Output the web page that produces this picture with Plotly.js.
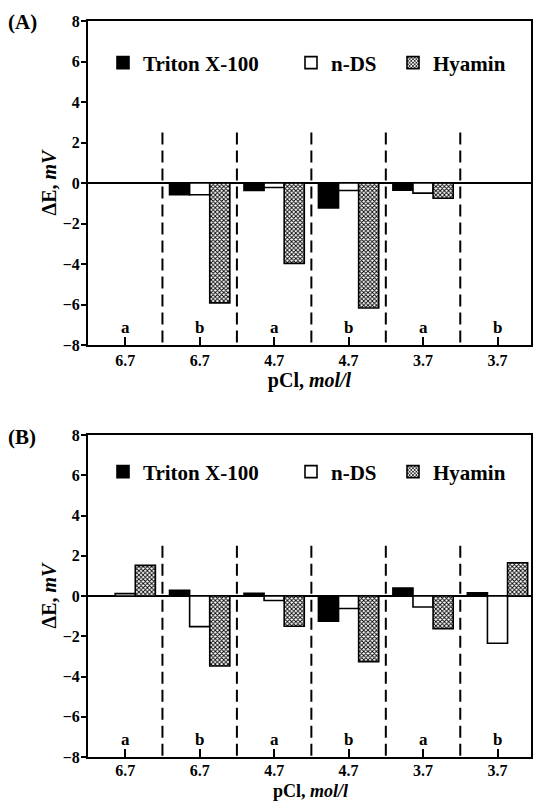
<!DOCTYPE html>
<html>
<head>
<meta charset="utf-8">
<script src="https://cdn.plot.ly/plotly-3.0.1.min.js"></script>
<style>
  html, body { margin: 0; padding: 0; background: #fff; }
  #chart { width: 535px; height: 802px; }
</style>
</head>
<body>
<div id="chart"></div>
<script>
// ---- data ----
const categories = ['6.7 a', '6.7 b', '4.7 a', '4.7 b', '3.7 a', '3.7 b'];
const pClLabels = ['6.7', '6.7', '4.7', '4.7', '3.7', '3.7'];
const groupLetters = ['a', 'b', 'a', 'b', 'a', 'b'];
const seriesNames = ['Triton X-100', 'n-DS', 'Hyamin'];

// Panel (A)
const tritonA = [0, -0.58, -0.37, -1.23, -0.35, 0];
const ndsA    = [0, -0.58, -0.22, -0.37, -0.50, 0];
const hyaminA = [0, -5.92, -3.97, -6.17, -0.75, 0];

// Panel (B)
const tritonB = [0, 0.28, 0.13, -1.25, 0.40, 0.16];
const ndsB    = [0.12, -1.52, -0.22, -0.62, -0.55, -2.35];
const hyaminB = [1.52, -3.48, -1.50, -3.26, -1.62, 1.65];

const yTicks = [-8, -6, -4, -2, 0, 2, 4, 6, 8];
const xTitle = 'pCl, <i>mol/l</i>';
const yTitle = '\u0394E, <i>mV</i>';

// ---- styling ----
const SERIF = 'Liberation Serif, Times New Roman, serif';
const W = 535, H = 802;
const L = 88, R = 4;
const plotW = W - L - R;
const px2x = px => (px - L) / plotW;
const py2y = py => (H - py) / H;

const styles = [
  { color: '#000000' },
  { color: '#ffffff' },
  { color: '#ffffff', pattern: { shape: 'x', size: 3, solidity: 0.5, fgcolor: '#000000', bgcolor: '#ffffff', fillmode: 'replace' } }
];

function barTrace(name, values, idx, xa, ya, legendId) {
  const m = { color: styles[idx].color, line: { color: '#000', width: 1.6 } };
  if (styles[idx].pattern) m.pattern = styles[idx].pattern;
  return {
    type: 'bar', name: name, x: categories, y: values,
    xaxis: xa, yaxis: ya, marker: m, legend: legendId, showlegend: true,
    hoverinfo: 'x+y+name'
  };
}

const traces = [
  barTrace(seriesNames[0], tritonA, 0, 'x', 'y', 'legend'),
  barTrace(seriesNames[1], ndsA, 1, 'x', 'y', 'legend2'),
  barTrace(seriesNames[2], hyaminA, 2, 'x', 'y', 'legend3'),
  barTrace(seriesNames[0], tritonB, 0, 'x2', 'y2', 'legend4'),
  barTrace(seriesNames[1], ndsB, 1, 'x2', 'y2', 'legend5'),
  barTrace(seriesNames[2], hyaminB, 2, 'x2', 'y2', 'legend6')
];

const tickFont = { family: SERIF, size: 16, color: '#000', weight: 700 };
const titleFont = { family: SERIF, size: 20, color: '#000', weight: 700 };

function xAxis(anchor, titleText, labelStandoff) {
  return {
    type: 'category', anchor: anchor, domain: [0, 1],
    range: [-0.5, 5.45],
    tickmode: 'array', tickvals: categories, ticktext: pClLabels,
    ticks: 'inside', ticklen: 8, tickwidth: 2, tickcolor: '#000',
    ticklabelstandoff: labelStandoff,
    showline: true, linecolor: '#000', linewidth: 2, mirror: true,
    showgrid: false, zeroline: false, fixedrange: true,
    tickfont: tickFont,
    title: { text: titleText, font: titleFont, standoff: 4 }
  };
}
function yAxis(domain, anchor) {
  return {
    anchor: anchor, domain: domain, range: [-8, 8],
    tickmode: 'array', tickvals: yTicks,
    ticks: 'outside', ticklen: 5, tickwidth: 2, tickcolor: '#000',
    ticklabelstandoff: -2,
    showline: true, linecolor: '#000', linewidth: 2, mirror: true,
    showgrid: false, zeroline: true, zerolinecolor: '#000', zerolinewidth: 2,
    fixedrange: true, tickfont: tickFont,
    title: { text: yTitle, font: titleFont, standoff: 1 }
  };
}

// dividers between categories
const shapes = [];
[['x', 'y'], ['x2', 'y2']].forEach(([xr, yr]) => {
  for (let i = 0; i < categories.length - 1; i++) {
    shapes.push({
      type: 'line', xref: xr, yref: yr, x0: i + 0.5, x1: i + 0.5, y0: 2.5, y1: -8.25,
      line: { color: '#000', width: 2, dash: '12px,6px' }, layer: 'above'
    });
  }
});

const annotations = [];
[['x', 'y'], ['x2', 'y2']].forEach(([xr, yr]) => {
  categories.forEach((c, i) => {
    annotations.push({
      xref: xr, yref: yr, x: c, y: -7.15, text: groupLetters[i], showarrow: false,
      font: { family: SERIF, size: 17, color: '#000', weight: 700 }
    });
  });
});
annotations.push({ xref: 'paper', yref: 'paper', x: px2x(22), y: py2y(22), xanchor: 'center', yanchor: 'middle',
  text: '(A)', showarrow: false, font: { family: SERIF, size: 21, color: '#000', weight: 700 } });
annotations.push({ xref: 'paper', yref: 'paper', x: px2x(22), y: py2y(437), xanchor: 'center', yanchor: 'middle',
  text: '(B)', showarrow: false, font: { family: SERIF, size: 21, color: '#000', weight: 700 } });
// x-axis title of panel (B), placed near the bottom edge like the reference
annotations.push({ xref: 'paper', yref: 'paper', x: px2x(310), y: py2y(791), xanchor: 'center', yanchor: 'middle',
  text: xTitle, showarrow: false, font: { family: SERIF, size: 18, color: '#000', weight: 700 } });

function legendAt(pxLeft, pyMid) {
  return {
    x: px2x(pxLeft), y: py2y(pyMid), xanchor: 'left', yanchor: 'middle',
    orientation: 'h', bgcolor: 'rgba(0,0,0,0)', borderwidth: 0,
    font: { family: SERIF, size: 21, color: '#000', weight: 700 }
  };
}

const layout = {
  width: W, height: H,
  margin: { l: L, r: R, t: 0, b: 0, autoexpand: false },
  paper_bgcolor: '#fff', plot_bgcolor: '#fff',
  barmode: 'group', bargap: 0.19, bargroupgap: 0,
  xaxis: xAxis('y', xTitle, 0),
  yaxis: yAxis([py2y(345), py2y(21)], 'x'),
  xaxis2: xAxis('y2', '', -2),
  yaxis2: yAxis([py2y(757), py2y(435)], 'x2'),
  legend: legendAt(103, 63),
  legend2: legendAt(291, 63),
  legend3: legendAt(393, 63),
  legend4: legendAt(103, 472),
  legend5: legendAt(291, 472),
  legend6: legendAt(393, 472),
  shapes: shapes,
  annotations: annotations
};

Plotly.newPlot('chart', traces, layout, { staticPlot: true, displayModeBar: false });
</script>
</body>
</html>
